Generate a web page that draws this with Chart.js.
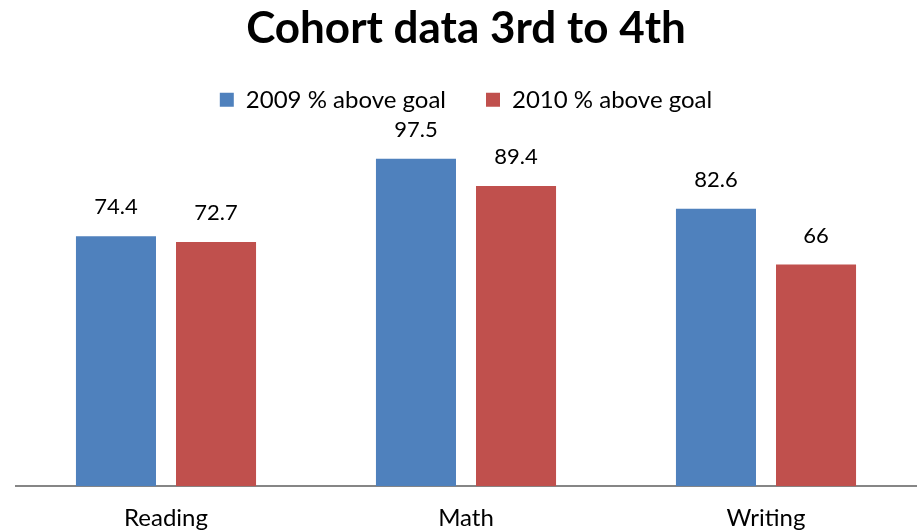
<!DOCTYPE html>
<html>
<head>
<meta charset="utf-8">
<script src="https://cdn.jsdelivr.net/npm/chart.js@4.4.0/dist/chart.umd.min.js"></script>
<style>
  html, body { margin: 0; padding: 0; background: #fff; }
  #wrap { width: 921px; height: 532px; }
</style>
</head>
<body>
<div id="wrap"><canvas id="cohort-chart"></canvas></div>
<script>
var categories = ['Reading', 'Math', 'Writing'];
var seriesLabels = ['2009 % above goal', '2010 % above goal'];
var values2009 = [74.4, 97.5, 82.6];
var values2010 = [72.7, 89.4, 66];

var FONT = 'Lato, "Open Sans", sans-serif';

// draws the value above each bar
var barValues = {
  id: 'barValues',
  afterDatasetsDraw: function (chart) {
    var ctx = chart.ctx;
    ctx.save();
    ctx.font = '22px ' + FONT;
    ctx.fillStyle = '#000';
    ctx.textAlign = 'center';
    ctx.textBaseline = 'bottom';
    chart.data.datasets.forEach(function (ds, i) {
      chart.getDatasetMeta(i).data.forEach(function (bar, j) {
        ctx.fillText(String(ds.data[j]), bar.x, bar.y - 18);
      });
    });
    ctx.restore();
  }
};

new Chart(document.getElementById('cohort-chart'), {
  type: 'bar',
  data: {
    labels: categories,
    datasets: [{
      label: seriesLabels[0],
      data: values2009,
      backgroundColor: '#4F81BD'
    }, {
      label: seriesLabels[1],
      data: values2010,
      backgroundColor: '#C0504D'
    }]
  },
  options: {
    responsive: true,
    maintainAspectRatio: false,
    animation: false,
    categoryPercentage: 0.667,
    barPercentage: 0.8,
    layout: { padding: { left: 16, right: 5, top: 0, bottom: -11 } },
    plugins: {
      title: {
        display: true,
        text: 'Cohort data 3rd to 4th',
        color: '#000',
        font: { family: FONT, size: 44, weight: 'bold' },
        padding: { top: 2, bottom: -7 }
      },
      legend: {
        position: 'top',
        labels: {
          color: '#000',
          font: { family: FONT, size: 24 },
          boxWidth: 14,
          boxHeight: 14,
          padding: 40
        }
      },
      tooltip: { enabled: false }
    },
    scales: {
      x: {
        grid: { display: false },
        border: { color: '#868686', width: 2 },
        ticks: { color: '#000', font: { family: FONT, size: 24 }, padding: 10 }
      },
      y: {
        display: false,
        min: 0,
        max: 108.5
      }
    }
  },
  plugins: [barValues]
});
</script>
</body>
</html>
